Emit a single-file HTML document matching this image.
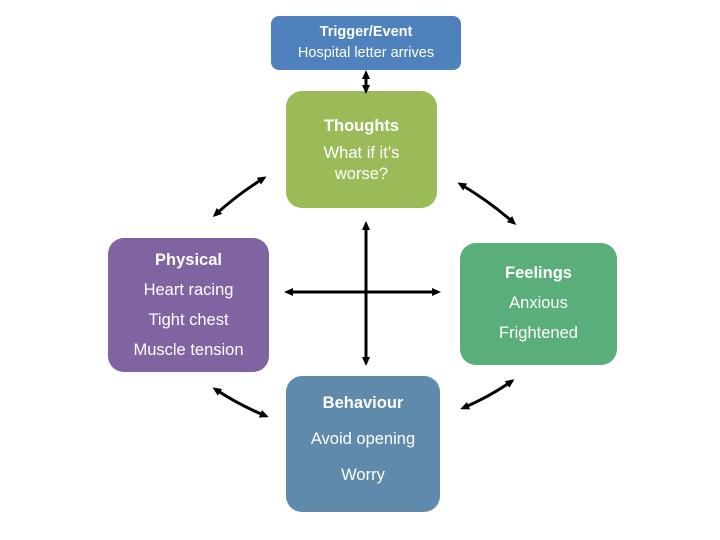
<!DOCTYPE html>
<html><head><style>
body{margin:0;width:720px;height:540px;background:#fff;position:relative;font-family:"Liberation Sans","DejaVu Sans",sans-serif;overflow:hidden}
.b{position:absolute;border-radius:16px;color:#fff;text-align:center;box-sizing:border-box;font-size:16.5px}
.b b{font-weight:bold}
</style></head><body>
<div class="b" style="left:271px;top:16px;width:190px;height:54px;background:#4f81bd;border-radius:8px;font-size:14.5px;line-height:21px;padding-top:6px"><b>Trigger/Event</b><br>Hospital letter arrives</div>
<div class="b" style="left:286px;top:91px;width:151px;height:117px;background:#9bbb59;line-height:25px;padding-top:22px"><b style="line-height:26px">Thoughts</b><br><span style="line-height:21px;display:inline-block;margin-top:4px">What if it’s<br>worse?</span></div>
<div class="b" style="left:108px;top:238px;width:161px;height:134px;background:#8064a2;line-height:30px;padding-top:7px"><b>Physical</b><br>Heart racing<br>Tight chest<br>Muscle tension</div>
<div class="b" style="left:460px;top:243px;width:157px;height:122px;background:#5aae7a;line-height:30px;padding-top:15px"><b>Feelings</b><br>Anxious<br>Frightened</div>
<div class="b" style="left:286px;top:376px;width:154px;height:136px;background:#5f8aab;line-height:36px;padding-top:9px"><b>Behaviour</b><br>Avoid opening<br>Worry</div>
<svg width="720" height="540" style="position:absolute;left:0;top:0">
<defs><marker id="a" markerWidth="9" markerHeight="8" refX="6" refY="4" orient="auto-start-reverse" markerUnits="userSpaceOnUse"><path d="M0,0 L9,4 L0,8 Z" fill="#000"/></marker></defs>
<g stroke="#000" stroke-width="3" fill="none" marker-start="url(#a)" marker-end="url(#a)">
<line x1="366" y1="73" x2="366" y2="91"/>
<line x1="366" y1="224" x2="366" y2="363"/>
<line x1="287" y1="292" x2="438" y2="292"/>
<path d="M264,178 Q238,194 215,215"/>
<path d="M460,184 Q489,201 514,223"/>
<path d="M215,389 Q239,405 266,416"/>
<path d="M463,408 Q489,397 512,381"/>
</g>
</svg>
</body></html>
